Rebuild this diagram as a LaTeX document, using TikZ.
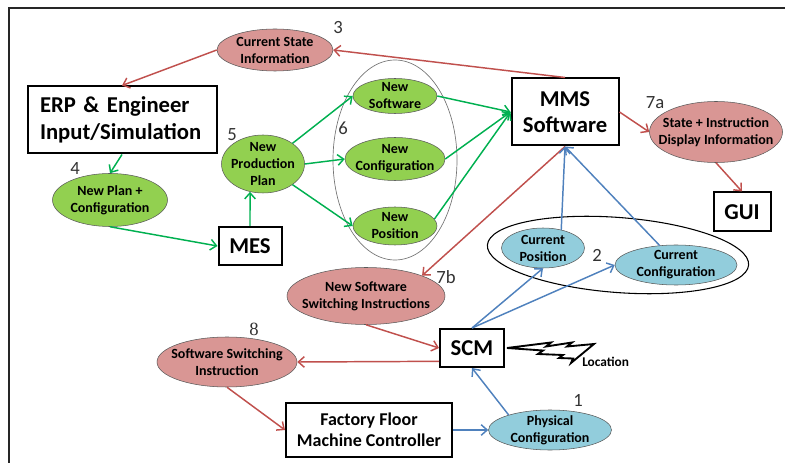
\documentclass[tikz,border=0pt]{standalone}
\usepackage{fontspec}
\setmainfont{Carlito}
\newfontfamily\numserif{Liberation Serif}
\usepackage{tikz}
\usetikzlibrary{arrows.meta, shapes.geometric}
\definecolor{redfill}{HTML}{D99694}
\definecolor{redline}{HTML}{C0504D}
\definecolor{greenfill}{HTML}{92D050}
\definecolor{greenline}{HTML}{00B050}
\definecolor{bluefill}{HTML}{92CDDC}
\definecolor{blueline}{HTML}{4F81BD}

\tikzset{
  box/.style={draw, line width=1.5pt, inner sep=0pt, align=center, font=\fontsize{17}{20}\selectfont\bfseries},
  bubble/.style n args={3}{ellipse, draw=black!65, line width=0.4pt, fill=#1, minimum width=#2, minimum height=#3, inner sep=0pt},
  intext/.style={align=center, inner sep=0pt, font=\fontsize{10.5}{12.75}\selectfont\bfseries},
  num/.style={inner sep=0pt, text=black!80, font=\fontsize{14}{16}\selectfont},
  link/.style={-{Straight Barb[length=4.5pt, width=8pt]}, line width=1.1pt},
  redarr/.style={link, redline},
  greenarr/.style={link, greenline},
  bluearr/.style={link, blueline}
}

\begin{document}
\begin{tikzpicture}[x=0.75pt, y=-0.75pt]
  \useasboundingbox (0,0) rectangle (785,463);
  % frame
  \draw[line width=1.2pt, black!85] (9,463) -- (9,8) -- (785,8);

  % groups
  \node[ellipse, draw=black!55, line width=0.5pt, minimum width=93pt, minimum height=150pt] (grp6) at (395,160) {};
  \node[ellipse, draw, line width=0.8pt, rotate=-4.4, minimum width=196.5pt, minimum height=56.25pt] (grp2) at (618,255) {};

  % boxes
  \node[box, align=left, minimum width=141.75pt, minimum height=50.25pt, text width=123pt] (erp) at (122,120) {ERP \& Engineer\\Input/Simulation};
  \node[box, minimum width=47.25pt, minimum height=28.5pt] (mes) at (250,246) {MES};
  \node[box, minimum width=80.25pt, minimum height=50.25pt] (mms) at (565,112) {MMS\\Software};
  \node[box, minimum width=42.75pt, minimum height=29.25pt] (gui) at (742,212) {GUI};
  \node[box, minimum width=48pt, minimum height=28.5pt] (scm) at (472,348) {SCM};
  \node[box, minimum width=124.5pt, minimum height=40.5pt, font=\fontsize{13.5}{16}\selectfont\bfseries] (factory) at (369,430) {Factory Floor\\Machine Controller};

  % red bubbles
  \node[bubble={redfill}{87pt}{31.5pt}, label={[intext]center:Current State\\Information}] (curstate) at (275,50) {};
  \node[bubble={redfill}{99.75pt}{45.75pt}, label={[intext]center:State + Instruction\\Display Information}] (disp) at (716,132) {};
  \node[bubble={redfill}{118.5pt}{42.75pt}, label={[intext]center:New Software\\Switching Instructions}] (newswi) at (366,296) {};
  \node[bubble={redfill}{105pt}{37.5pt}, label={[intext]center:Software Switching\\Instruction}] (swi) at (227,362) {};

  % green bubbles
  \node[bubble={greenfill}{86.25pt}{39.75pt}, label={[intext]center:New Plan +\\Configuration}] (plan) at (110,200) {};
  \node[bubble={greenfill}{62.25pt}{43.5pt}, label={[intext]center:New\\Production\\Plan}] (prod) at (263,164) {};
  \node[bubble={greenfill}{63pt}{26.25pt}, label={[intext]center:New\\Software}] (newsw) at (395,96) {};
  \node[bubble={greenfill}{75pt}{32.25pt}, label={[intext]center:New\\Configuration}] (newcfg) at (395,159) {};
  \node[bubble={greenfill}{63pt}{28.5pt}, label={[intext]center:New\\Position}] (newpos) at (395,226) {};

  % blue bubbles
  \node[bubble={bluefill}{62.25pt}{30pt}, label={[intext]center:Current\\Position}] (curpos) at (543,248) {};
  \node[bubble={bluefill}{91.5pt}{30pt}, label={[intext]center:Current\\Configuration}] (curcfg) at (676,265) {};
  \node[bubble={bluefill}{92.25pt}{30pt}, label={[intext]center:Physical\\Configuration}] (phys) at (550,430) {};

  % step numbers
  \node[num] (n1) at (578,400) {1};
  \node[num] (n2) at (597,255) {2};
  \node[num] (n3) at (338,28) {3};
  \node[num] (n4) at (75,169) {4};
  \node[num] (n5) at (232,135) {5};
  \node[num] (n6) at (343,128) {6};
  \node[num] (n7a) at (655,103) {7a};
  \node[num] (n7b) at (446,277) {7b};
  \node[num, font=\numserif\fontsize{14}{16}\selectfont] (n8) at (254,329) {8};

  % lightning
  \draw[line width=1.4pt, line join=miter] (507,348) -- (551,342.5) -- (546,346.5) -- (572,342.5) -- (567,346.5) -- (594,344)
    -- (571,363) -- (573,358.5) -- (559,358) -- (563,355) -- (538,354) -- (543,350.5) -- cycle;
  \node[anchor=west, inner sep=0pt, font=\fontsize{10}{12}\selectfont\bfseries] (loc) at (582,362) {Location};

  % red links
  \draw[redarr] (mms.north) -- (curstate.east);
  \draw[redarr] (curstate.west) -- (erp.north);
  \draw[redarr] (mms.east) -- (disp.west);
  \draw[redarr] (disp.south) -- (gui.north);
  \draw[redarr] (mms.south) -- (newswi.north east);
  \draw[redarr] (newswi.south) -- (scm.west);
  \draw[redarr] (scm.202) -- (swi.east);
  \draw[redarr] (swi.south) -- (factory.west);

  % green links
  \draw[greenarr] (erp.south) -- (plan.north);
  \draw[greenarr] (plan.south) -- (mes.west);
  \draw[greenarr] (mes.north) -- (prod.245);
  \draw[greenarr] (prod.north east) -- (newsw.west);
  \draw[greenarr] (prod.east) -- (newcfg.west);
  \draw[greenarr] (prod.south east) -- (newpos.west);
  \draw[greenarr] (newsw.east) -- (mms.west);
  \draw[greenarr] (newcfg.east) -- (mms.west);
  \draw[greenarr] (newpos.10) -- (mms.west);

  % blue links
  \draw[bluearr] (curpos.45) -- (mms.south);
  \draw[bluearr] (curcfg.130) -- (mms.south);
  \draw[bluearr] (scm.north) -- (curpos.south);
  \draw[bluearr] (scm.north) -- (curcfg.west);
  \draw[bluearr] (phys.160) -- (scm.south);
  \draw[bluearr] (factory.east) -- (phys.west);
\end{tikzpicture}
\end{document}
